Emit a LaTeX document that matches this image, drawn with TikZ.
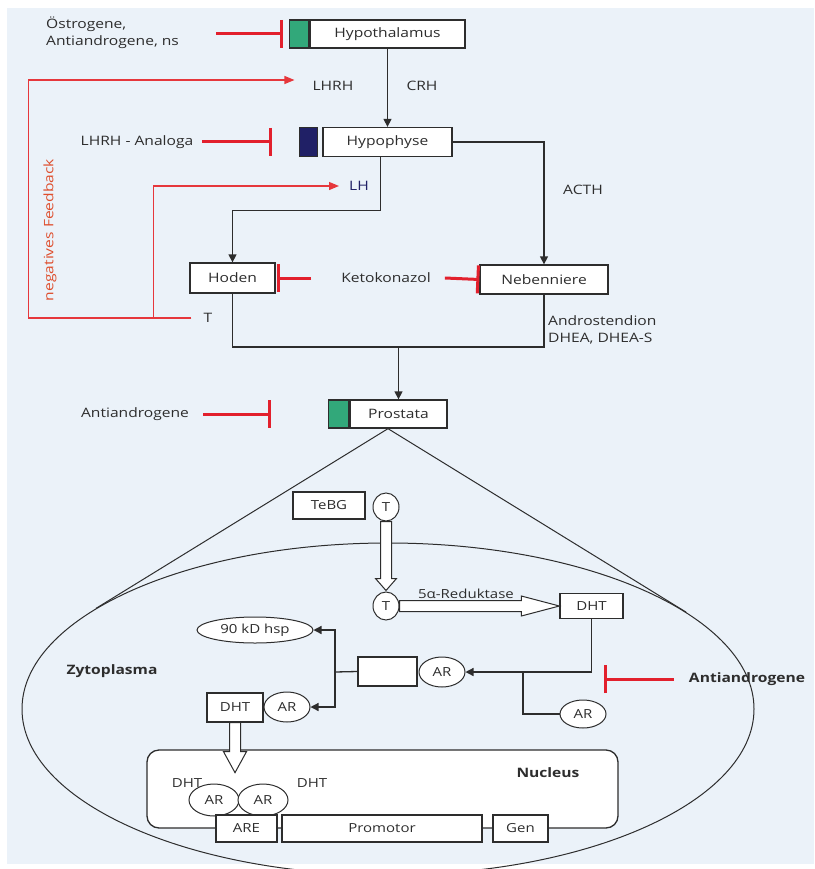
\documentclass[tikz,border=0pt]{standalone}
\usepackage{fontspec}
\setmainfont{Open Sans}[FakeStretch=1.2]
\usetikzlibrary{arrows.meta, shapes.geometric, positioning, calc}

\definecolor{panel}{RGB}{235,242,249}
\definecolor{ink}{RGB}{45,45,45}
\definecolor{inhred}{RGB}{226,32,45}
\definecolor{fbred}{RGB}{230,55,60}
\definecolor{fbtext}{RGB}{222,78,45}
\definecolor{mkgreen}{RGB}{50,168,122}
\definecolor{mknavy}{RGB}{32,32,102}

\tikzset{
  txt/.style={font=\fontsize{13}{17}\selectfont, text=ink, inner sep=1pt},
  sm/.style={font=\fontsize{12.5}{15}\selectfont, text=ink},
  bold/.style={font=\fontsize{13}{16}\selectfont\bfseries, text=ink, inner sep=1pt},
  box/.style={draw=ink, fill=white, line width=1.3pt, inner sep=0pt, txt},
  sqmark/.style={draw=ink, line width=1.3pt, inner sep=0pt},
  rnd/.style={ellipse, draw=ink, fill=white, line width=1pt, inner sep=0pt, sm},
  arr/.style={draw=ink, line width=1.3pt, -{Triangle[length=8pt,width=8pt]}},
  lin/.style={draw=ink, line width=1.3pt},
  inh/.style={draw=inhred, line width=3pt, -{Bar[width=28pt]}},
  fb/.style={draw=fbred, line width=1.2pt, -{Triangle[length=10pt,width=8pt]}},
  hollow/.style={draw=ink, fill=white, line width=1pt, line join=miter}
}

\begin{document}
\begin{tikzpicture}[x=1pt, y=-1pt]
    % Draw the page and the light panel
    \useasboundingbox (0,0) rectangle (814,869);
    \fill[white] (0,0) rectangle (814,869);
    \fill[panel] (7,8) rectangle (814,864);

    % Draw hypothalamus and hypophyse
    \node[box, minimum width=155pt, minimum height=28pt] (hyth) at (387.5,34) {Hypothalamus};
    \node[sqmark, fill=mkgreen, minimum width=19pt, minimum height=28pt, anchor=east] (hythmk) at (hyth.west) {};
    \node[txt, align=left, anchor=west] (oestr) at (45,33) {Östrogene,\\Antiandrogene, ns};
    \draw[inh] ([xshift=-73pt]hythmk.west) -- ([xshift=-6pt]hythmk.west);

    \node[txt] (lhrh) at (333,86) {LHRH};
    \node[txt] (crh) at (422,86) {CRH};

    \node[box, minimum width=129pt, minimum height=29pt] (hyph) at (387.5,142) {Hypophyse};
    \node[sqmark, fill=mknavy, minimum width=18pt, minimum height=29pt, anchor=east] (hyphmk) at ([xshift=-4pt]hyph.west) {};
    \node[txt] (analoga) at (137,142) {LHRH - Analoga};
    \draw[inh] ([xshift=-97pt]hyphmk.west) -- ([xshift=-27pt]hyphmk.west);
    \draw[arr] (hyth.south) -- (hyph.north);

    % Draw hoden and nebenniere
    \node[box, minimum width=85pt, minimum height=30pt] (hoden) at (232.5,278) {Hoden};
    \node[box, minimum width=128pt, minimum height=29pt] (neben) at (544,279.5) {Nebenniere};
    \node[txt] (keto) at (386,278) {Ketokonazol};
    \node[txt] (acth) at (583,190) {ACTH};
    \node[txt, text=mknavy] (lh) at (359,186) {LH};
    \node[txt] (tl) at (208,318) {T};
    \node[txt, align=left, anchor=west] (andro) at (547,330) {Androstendion\\DHEA, DHEA-S};

    \draw[arr] ([xshift=-7pt]hyph.south) -- ++(0,53) -| (hoden.north);
    \draw[arr] (hyph.east) -| (neben.north);
    \draw[inh] ([xshift=-29pt]keto.west) -- ([xshift=1pt]hoden.east);
    \draw[inh] ([xshift=13pt]keto.east) -- (neben.west);

    % Draw the negative feedback
    \draw[fb] ([xshift=-11pt]tl.west) -- ++(-163,0) |- ([xshift=-17pt,yshift=6pt]lhrh.west);
    \draw[fb] ([xshift=-49pt]tl.west) |- ([xshift=-9pt]lh.west);
    \node[txt, text=fbtext, rotate=90] (fblbl) at (50,230) {negatives Feedback};

    % Draw prostata
    \node[box, minimum width=97pt, minimum height=28pt] (prost) at (398.5,414) {Prostata};
    \node[sqmark, fill=mkgreen, minimum width=20pt, minimum height=28pt, anchor=east] (prostmk) at (prost.west) {};
    \node[txt] (antiandr) at (135,414) {Antiandrogene};
    \draw[inh] ([xshift=-125pt]prostmk.west) -- ([xshift=-57pt]prostmk.west);
    \coordinate (join) at (prost.north |- 0,347);
    \draw[lin] (hoden.south) |- (join) -| (neben.south);
    \draw[arr] (join) -- (prost.north);

    % Draw the cell
    \node[ellipse, draw=ink, line width=1pt, minimum width=732pt, minimum height=332pt, inner sep=0pt] (cell) at (388,709) {};
    \coordinate (apex) at ([xshift=-10.5pt]prost.south);
    \draw[draw=ink, line width=1pt] (cell.161.6) -- (apex) -- (cell.18.4);
    \node[bold] (zyto) at (112,671) {Zytoplasma};

    % Draw testosterone uptake and reduction
    \node[box, sm, minimum width=72pt, minimum height=27pt] (tebg) at (329,505.5) {TeBG};
    \node[rnd, minimum width=26pt, minimum height=28pt] (t1) at (386,507) {T};
    \node[rnd, minimum width=26pt, minimum height=28pt] (t2) at (386,606) {T};
    \node[box, sm, minimum width=63pt, minimum height=25pt] (dht1) at (591.5,606) {DHT};
    \draw[hollow] ([xshift=-5.5pt]t1.south) -- ([xshift=-5.5pt,yshift=13pt]t2.north)
        -- ([xshift=-10.5pt,yshift=13pt]t2.north) -- ([yshift=1pt]t2.north)
        -- ([xshift=10.5pt,yshift=13pt]t2.north) -- ([xshift=5.5pt,yshift=13pt]t2.north)
        -- ([xshift=5.5pt]t1.south) -- cycle;
    \draw[hollow] ([yshift=5.5pt]t2.east) -- ([xshift=-38pt,yshift=5.5pt]dht1.west)
        -- ([xshift=-38pt,yshift=10pt]dht1.west) -- (dht1.west)
        -- ([xshift=-38pt,yshift=-10pt]dht1.west) -- ([xshift=-38pt,yshift=-5.5pt]dht1.west)
        -- ([yshift=-5.5pt]t2.east) -- cycle;
    \node[sm, anchor=south, inner sep=1pt] (reduk) at (466,600) {5α-Reduktase};

    % Draw receptor binding
    \node[box, minimum width=59pt, minimum height=29pt] (arbox) at (387.5,671.5) {};
    \node[rnd, minimum width=46pt, minimum height=30pt] (ar1) at (442,672) {AR};
    \node[rnd, minimum width=116pt, minimum height=26pt] (hsp) at (255,630) {90 kD hsp};
    \node[box, sm, minimum width=56pt, minimum height=29pt] (dht2) at (235,707.5) {DHT};
    \node[rnd, minimum width=46pt, minimum height=30pt] (ar2) at (287,707) {AR};
    \node[rnd, minimum width=46pt, minimum height=28pt] (arfree) at (583,714) {AR};
    \node[bold] (aalbl) at (747,679) {Antiandrogene};

    \draw[arr] (dht1.south) |- (ar1.east);
    \coordinate (arsplit) at (523,672);
    \draw[lin] (arsplit) |- (arfree.west);
    \draw[inh] ([xshift=-14pt]aalbl.west) -- ++(-70,0);
    \coordinate (hspsplit) at (335,672);
    \draw[lin] (arbox.west) -- (hspsplit);
    \draw[arr] (hspsplit) |- (hsp.east);
    \draw[arr] (hspsplit) |- (ar2.east);

    % Draw the nucleus
    \node[draw=ink, fill=white, line width=1.3pt, rounded corners=12pt, minimum width=471pt, minimum height=78pt] (nucl) at (382.5,789) {};
    \node[bold] (nucllbl) at (548,773) {Nucleus};
    \draw[hollow] ([xshift=-5.5pt]dht2.south) -- ++(0,29) -- ++(-6,0) -- ++(11.5,21)
        -- ++(11.5,-21) -- ++(-6,0) -- ++(0,-29) -- cycle;
    \node[sm] (dht3) at (187,783) {DHT};
    \node[sm] (dht4) at (312,783) {DHT};
    \node[rnd, minimum width=50pt, minimum height=32pt] (ar3) at (214,800) {AR};
    \node[rnd, minimum width=50pt, minimum height=32pt] (ar4) at (263,800) {AR};
    \node[box, sm, minimum width=61pt, minimum height=27pt] (are) at (246.5,828.5) {ARE};
    \node[box, sm, minimum width=200pt, minimum height=27pt] (prom) at (382,828.5) {Promotor};
    \node[box, sm, minimum width=55pt, minimum height=27pt] (gen) at (520.5,828.5) {Gen};
\end{tikzpicture}
\end{document}
